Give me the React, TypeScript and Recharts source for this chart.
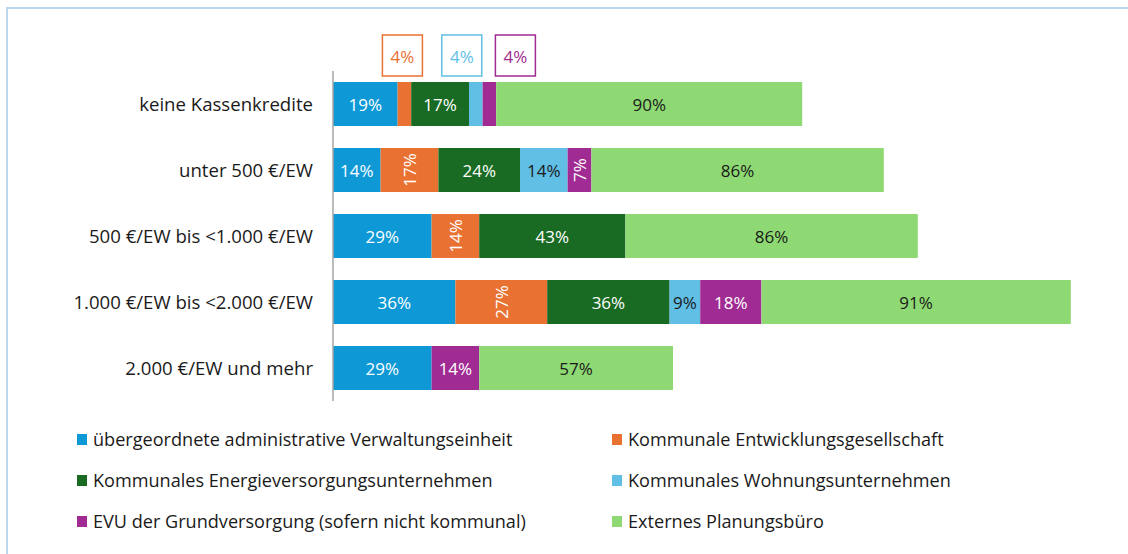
import React from 'react';
import { Bar, BarChart, LabelList, XAxis, YAxis } from 'recharts';

const categories = [
  'keine Kassenkredite',
  'unter 500 €/EW',
  '500 €/EW bis <1.000 €/EW',
  '1.000 €/EW bis <2.000 €/EW',
  '2.000 €/EW und mehr',
];

const verwaltung = [19, 14, 29, 36, 29];
const entwicklung = [4, 17, 14, 27, 0];
const energie = [17, 24, 43, 36, 0];
const wohnung = [4, 14, 0, 9, 0];
const evu = [4, 7, 0, 18, 14];
const planung = [90, 86, 86, 91, 57];

const seriesNames = [
  'übergeordnete administrative Verwaltungseinheit',
  'Kommunale Entwicklungsgesellschaft',
  'Kommunales Energieversorgungsunternehmen',
  'Kommunales Wohnungsunternehmen',
  'EVU der Grundversorgung (sofern nicht kommunal)',
  'Externes Planungsbüro',
];

const seriesKeys = ['verwaltung', 'entwicklung', 'energie', 'wohnung', 'evu', 'planung'];

const COLORS: Record<string, string> = {
  verwaltung: '#0E99D6',
  entwicklung: '#E97132',
  energie: '#196B24',
  wohnung: '#61BFE6',
  evu: '#A02B93',
  planung: '#8ED973',
};

const TEXT_COLORS: Record<string, string> = {
  verwaltung: '#ffffff',
  entwicklung: '#ffffff',
  energie: '#ffffff',
  wohnung: '#1a1a1a',
  evu: '#ffffff',
  planung: '#1a1a1a',
};

// horizontal shift of the callout boxes above the first bar
const CALLOUT_SHIFT: Record<string, number> = {
  entwicklung: -2,
  wohnung: -14,
  evu: 26,
};

const data = categories.map((category, i) => ({
  category,
  verwaltung: verwaltung[i],
  entwicklung: entwicklung[i],
  energie: energie[i],
  wohnung: wohnung[i],
  evu: evu[i],
  planung: planung[i],
}));

const FONT = '"Open Sans", "Noto Sans", sans-serif';
const FS = 17;
const TEXT_FS = 18.6;
const LEGEND_FS = 18.1;

function makeLabel(key: string) {
  return function SegmentLabel(props: any) {
    const { x, y, width, height, value, index } = props;
    if (!value) return null;
    const cx = Number(x) + Number(width) / 2;
    const cy = Number(y) + Number(height) / 2;
    const text = `${value}%`;
    if (index === 0 && value <= 4 && CALLOUT_SHIFT[key] !== undefined) {
      const bx = cx + CALLOUT_SHIFT[key];
      const top = Number(y) - 47;
      return (
        <g>
          <rect
            x={bx - 20}
            y={top}
            width={40}
            height={41}
            fill="#fff"
            stroke={COLORS[key]}
            strokeWidth={1.5}
          />
          <text
            x={bx}
            y={top + 21}
            textAnchor="middle"
            dominantBaseline="central"
            fill={COLORS[key]}
            fontSize={FS}
            fontFamily={FONT}
          >
            {text}
          </text>
        </g>
      );
    }
    const rotate = key === 'entwicklung' || Number(width) < 30;
    return (
      <text
        x={cx}
        y={cy}
        textAnchor="middle"
        dominantBaseline="central"
        fill={TEXT_COLORS[key]}
        fontSize={FS}
        fontFamily={FONT}
        transform={rotate ? `rotate(-90 ${cx} ${cy})` : undefined}
      >
        {text}
      </text>
    );
  };
}

function LegendBox() {
  return (
    <div
      style={{
        position: 'absolute',
        left: 77,
        top: 428,
        display: 'grid',
        gridTemplateColumns: '535px 440px',
        rowGap: 19,
        fontFamily: FONT,
        fontSize: LEGEND_FS,
        color: '#1a1a1a',
      }}
    >
      {seriesKeys.map((key, i) => (
        <div key={key} style={{ display: 'flex', alignItems: 'center', height: 22 }}>
          <span
            style={{
              width: 10,
              height: 11,
              background: COLORS[key],
              marginRight: 6,
              flexShrink: 0,
            }}
          />
          <span style={{ whiteSpace: 'nowrap' }}>{seriesNames[i]}</span>
        </div>
      ))}
    </div>
  );
}

export default function App() {
  return (
    <div
      style={{
        position: 'absolute',
        left: 0,
        top: 0,
        width: 1128,
        height: 554,
        background: '#fff',
        overflow: 'hidden',
      }}
    >
      <div
        style={{
          position: 'absolute',
          left: 6,
          top: 7,
          width: 1121,
          height: 560,
          borderTop: '2px solid #BDD7EE',
          borderLeft: '2px solid #BDD7EE',
        }}
      />
      <div style={{ position: 'absolute', left: 0, top: 0 }}>
        <BarChart
          width={1128}
          height={430}
          data={data}
          layout="vertical"
          margin={{ top: 71, right: 13, bottom: 29, left: 0 }}
        >
          <XAxis type="number" hide domain={[0, 230]} />
          <YAxis
            type="category"
            dataKey="category"
            width={333}
            tickLine={false}
            tickSize={0}
            tickMargin={20}
            axisLine={{ stroke: '#A6A6A6', strokeWidth: 1.5 }}
            tick={{ fill: '#1a1a1a', fontSize: TEXT_FS, fontFamily: FONT }}
          />
          {seriesKeys.map((key, i) => (
            <Bar
              key={key}
              dataKey={key}
              name={seriesNames[i]}
              stackId="a"
              fill={COLORS[key]}
              barSize={44}
              isAnimationActive={false}
            >
              <LabelList dataKey={key} content={makeLabel(key)} />
            </Bar>
          ))}
        </BarChart>
      </div>
      <LegendBox />
    </div>
  );
}
